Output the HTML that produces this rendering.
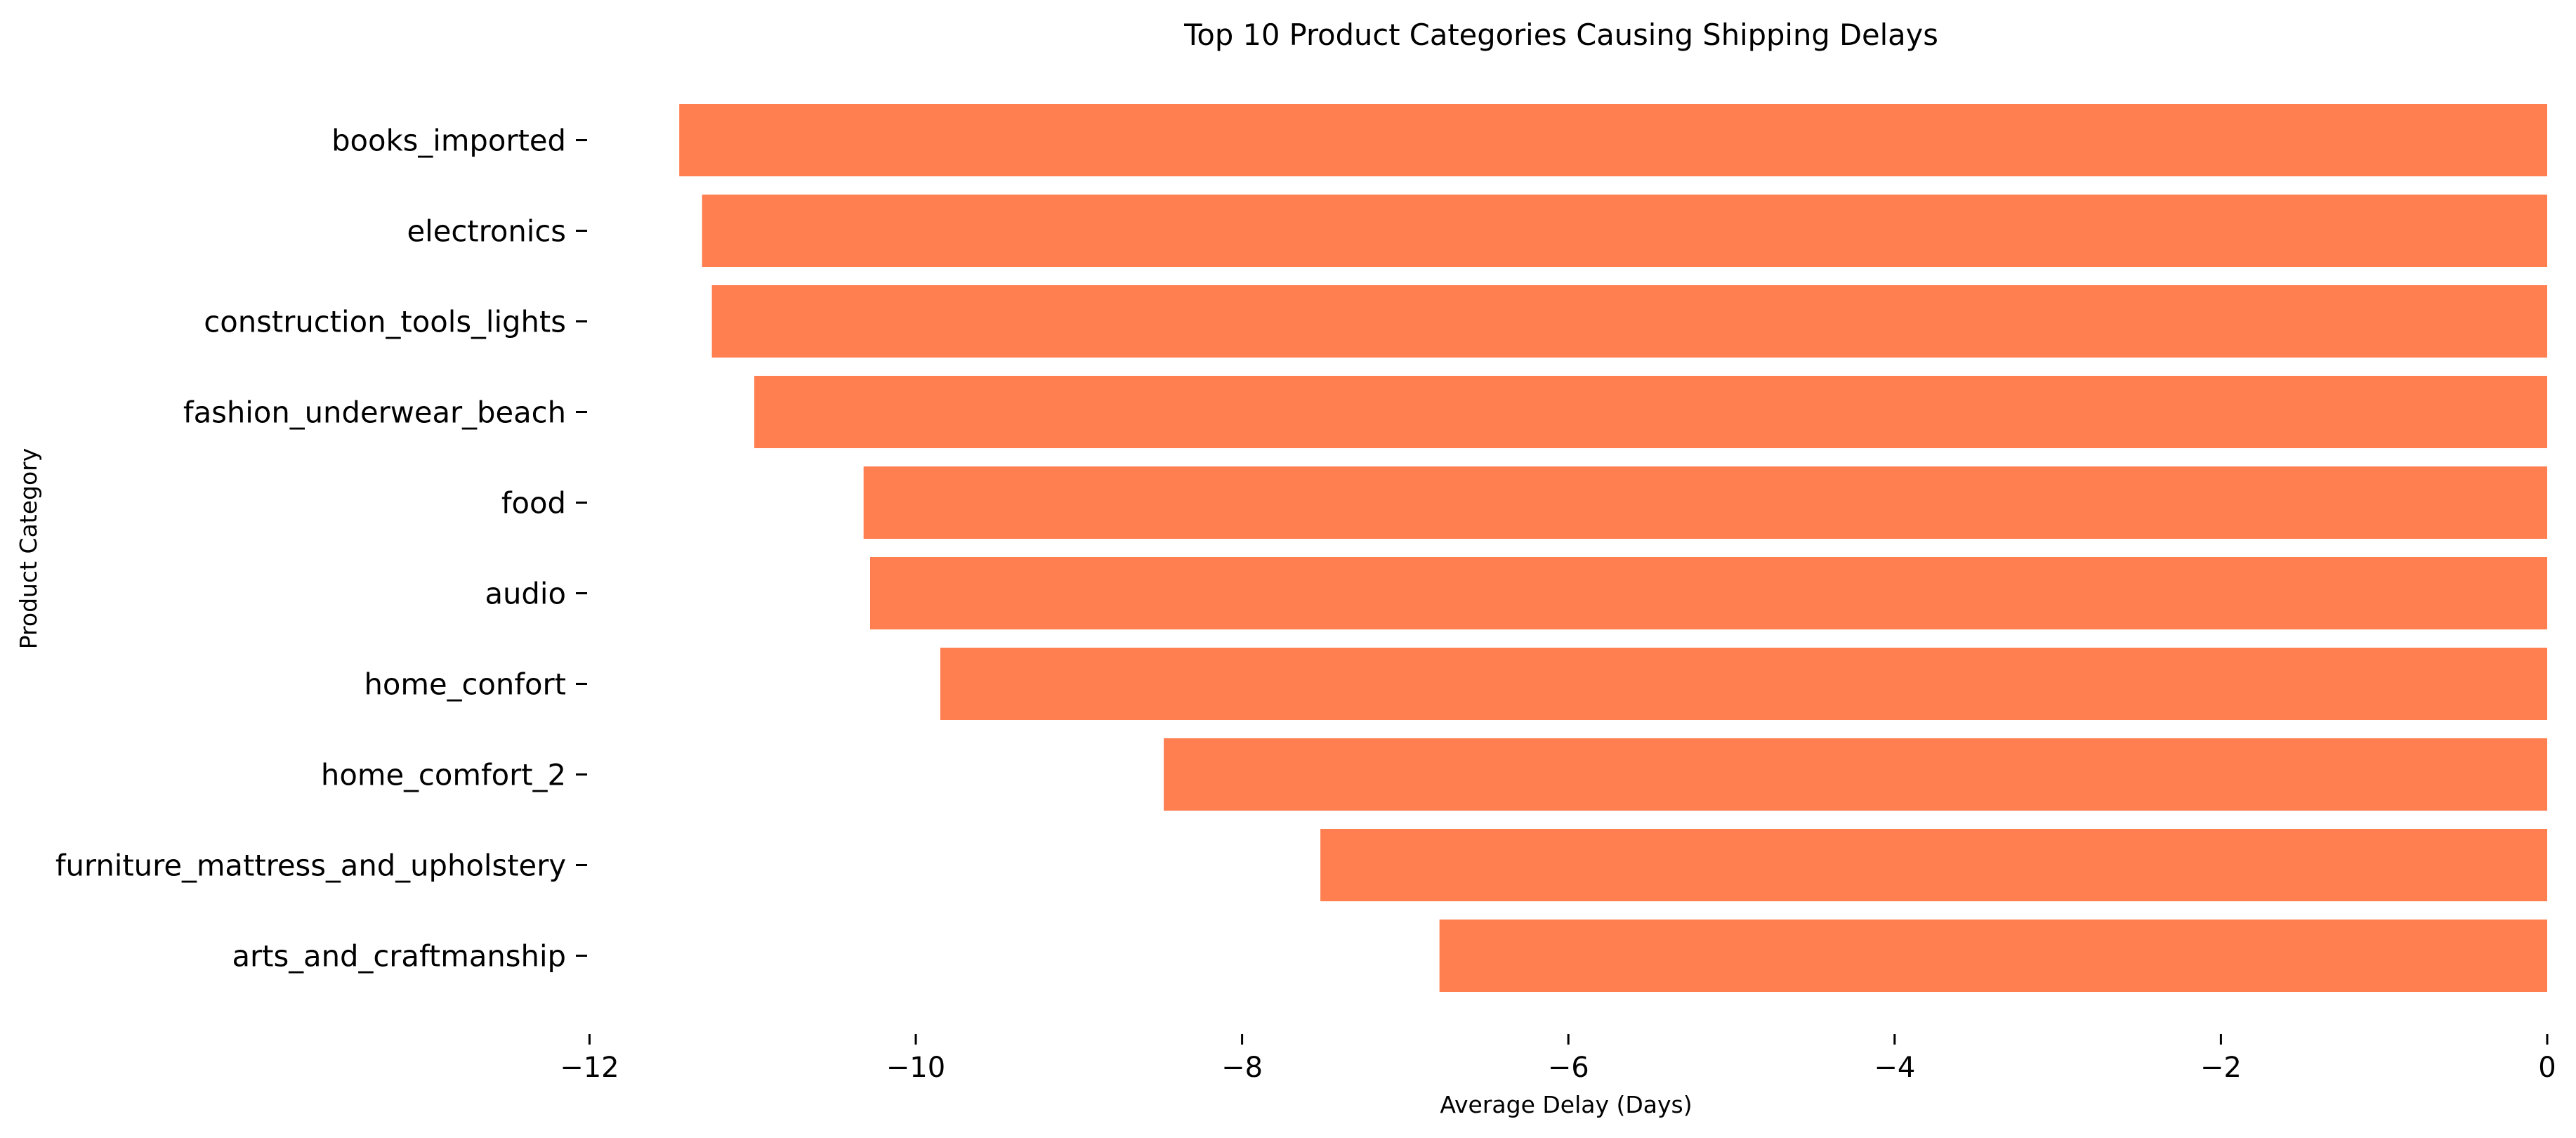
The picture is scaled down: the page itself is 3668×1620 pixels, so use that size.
<!DOCTYPE html>
<html><head><meta charset="utf-8"><style>html,body{margin:0;padding:0;background:#fff}svg{display:block}</style></head>
<body>
<svg id="chart" width="3668" height="1620" xmlns="http://www.w3.org/2000/svg" font-family="'DejaVu Sans','Liberation Sans',sans-serif">
<rect width="3668" height="1620" fill="#fff"/>
<text x="2223" y="64" font-size="41.6" text-anchor="middle">Top 10 Product Categories Causing Shipping Delays</text>
<text x="2230" y="1584" font-size="33" text-anchor="middle">Average Delay (Days)</text>
<text transform="translate(52,781) rotate(-90)" font-size="33" text-anchor="middle">Product Category</text>
<g id="bars"></g><g id="yticks"></g><g id="xticks"></g>
</svg>
<script>
const categories = ["books_imported","electronics","construction_tools_lights","fashion_underwear_beach","food","audio","home_confort","home_comfort_2","furniture_mattress_and_upholstery","arts_and_craftmanship"];
const values = [-11.45,-11.31,-11.25,-10.99,-10.32,-10.28,-9.85,-8.48,-7.52,-6.79];
const xTicks = [-12,-10,-8,-6,-4,-2,0];
const xTickLabels = ["\u221212","\u221210","\u22128","\u22126","\u22124","\u22122","0"];

const NS = "http://www.w3.org/2000/svg";
const x = v => 3627 + v * 232.3;
const y = i => 199.5 + i * 129;
const barH = 103;
const bars = document.getElementById('bars');
const yt = document.getElementById('yticks');
const xt = document.getElementById('xticks');
categories.forEach((c, i) => {
  const r = document.createElementNS(NS, 'rect');
  
  
  const x0 = x(values[i]), x1 = x(0);
  r.setAttribute('x', Math.min(x0, x1));
  r.setAttribute('width', Math.abs(x1 - x0));
  r.setAttribute('y', y(i) - barH / 2);
  r.setAttribute('height', barH);
  r.setAttribute('fill', '#ff7f50');
  bars.appendChild(r);
  const t = document.createElementNS(NS, 'line');
  
  
  t.setAttribute('x1', 820); t.setAttribute('x2', 836);
  t.setAttribute('y1', y(i)); t.setAttribute('y2', y(i));
  t.setAttribute('stroke', '#000'); t.setAttribute('stroke-width', 3);
  yt.appendChild(t);
  const l = document.createElementNS(NS, 'text');
  
  
  l.setAttribute('x', 806); l.setAttribute('y', y(i) + 15);
  l.setAttribute('font-size', 41.7); l.setAttribute('text-anchor', 'end');
  l.textContent = c;
  yt.appendChild(l);
});
xTicks.forEach((v, i) => {
  const t = document.createElementNS(NS, 'line');
  
  
  t.setAttribute('x1', x(v)); t.setAttribute('x2', x(v));
  t.setAttribute('y1', 1472); t.setAttribute('y2', 1487);
  t.setAttribute('stroke', '#000'); t.setAttribute('stroke-width', 3);
  xt.appendChild(t);
  const l = document.createElementNS(NS, 'text');
  
  
  l.setAttribute('x', x(v)); l.setAttribute('y', 1533);
  l.setAttribute('font-size', 40); l.setAttribute('text-anchor', 'middle');
  l.textContent = xTickLabels[i];
  xt.appendChild(l);
});
</script>
</body></html>
